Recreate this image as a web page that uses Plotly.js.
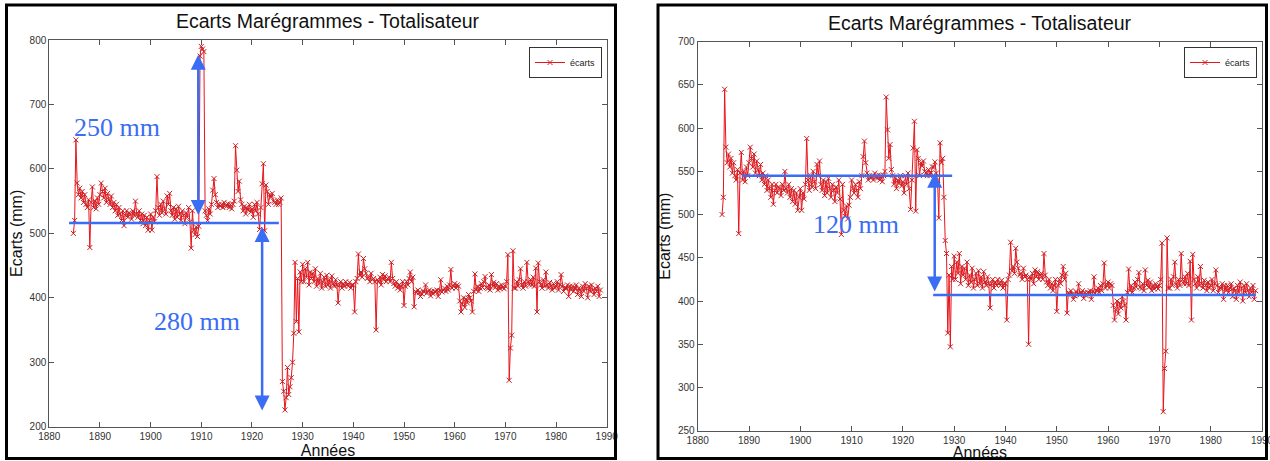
<!DOCTYPE html>
<html>
<head>
<meta charset="utf-8">
<script src="https://cdn.plot.ly/plotly-3.0.1.min.js"></script>
<style>
  html, body { margin: 0; padding: 0; background: #ffffff; }
  #chart { width: 1270px; height: 461px; }
</style>
</head>
<body>
<div id="chart"></div>
<script>
// ---------------- DATA (quarterly readings, mm) ----------------
// corrected series (right panel); the left panel is the same series with two raw segments
const ecarts1880s = [          // starts 1884.75
  500,
  520, 645, 578, 560,   // 1885
  570, 555, 565, 548,   // 1886
  560, 545, 540, 552,   // 1887
  478, 548, 572, 540,   // 1888
  550, 538, 555, 545    // 1889
];
const ecarts1890s = [
  560, 578, 565, 555,
  570, 548, 562, 552,
  545, 558, 540, 548,
  535, 545, 528, 540,
  530, 520, 535, 512,
  528, 535, 525, 532,
  530, 522, 535, 528,
  550, 530, 525, 535,
  520, 530, 515, 528,
  512, 525, 505, 520
];
const ecarts1900s = [
  530, 505, 525, 518,
  535, 588, 540, 528,
  545, 532, 550, 538,
  530, 558, 545, 562,
  535, 528, 540, 522,
  538, 525, 542, 530,
  520, 535, 528, 515,
  532, 525, 540, 518,
  477, 535, 505, 498,
  510, 495, 511, 520
];
const ecarts1910s = [
  540, 530, 525, 535,
  528, 520, 538, 530,
  545, 567, 585, 560,
  548, 540, 545, 542,
  545, 540, 548, 543,
  542, 546, 540, 545,
  538, 545, 550, 636,
  598, 565, 581, 552,
  545, 535, 542, 530,
  540, 536, 545, 533
];
const ecarts1920s = [
  538, 525, 545, 535,
  548, 530, 506, 540,
  577, 608, 504, 575,
  565, 545, 560, 556,
  562, 550, 548, 545,
  552, 545, 548, 555,
  555, 561, 548, 540,
  496, 583, 560, 565,
  520, 470, 455, 363,
  430, 347, 440, 425
];
const ecarts1930s = [
  452, 425, 445, 432,
  455, 420, 440, 430,
  438, 425, 445, 418,
  430, 422, 438, 415,
  425, 432, 418, 435,
  420, 428, 415, 434,
  422, 418, 428, 420,
  392, 420, 425, 415,
  422, 418, 425, 420,
  418, 424, 415, 420
];
const ecarts1940s = [
  420, 378, 425, 430,
  468, 435, 440, 432,
  461, 445, 438, 430,
  432, 425, 438, 428,
  430, 425, 350, 428,
  425, 432, 420, 436,
  428, 434, 425, 430,
  432, 425, 455, 430,
  422, 418, 425, 415,
  420, 412, 418, 425
];
const ecarts1950s = [
  388, 418, 425, 420,
  430, 440, 425, 432,
  386, 410, 408, 412,
  408, 402, 406, 411,
  409, 420, 407, 410,
  412, 403, 410, 406,
  410, 409, 412, 402,
  411, 428, 409, 412,
  415, 410, 418, 412,
  420, 444, 415, 418
];
const ecarts1960s = [
  422, 415, 420, 418,
  395, 378, 390, 400,
  385, 398, 392, 405,
  400, 395, 378, 410,
  437, 412, 418, 410,
  415, 422, 416, 425,
  433, 416, 414, 420,
  412, 436, 418, 424,
  416, 422, 412, 418,
  414, 420, 416, 414
];
const ecarts1970s = [
  418, 425, 467, 272,
  322, 342, 473, 415,
  415, 425, 418, 428,
  445, 420, 415, 425,
  418, 455, 425, 420,
  428, 420, 432, 418,
  446, 378, 454, 425,
  420, 415, 428, 418,
  440, 420, 415, 424,
  418, 412, 422, 415
];
const ecarts1980s = [
  418, 425, 412, 420,
  436, 418, 410, 415,
  415, 420, 402, 418,
  412, 418, 410, 415,
  420, 405, 415, 412,
  402, 418, 410, 422,
  415, 400, 418, 410,
  420, 412, 405, 415,
  410, 418, 402, 412
];
// raw (uncorrected) segments shown only in the left panel
const spike1910Left = [775, 790, 786, 782];                          // from 1909.75
const dip1926Left  = [270, 255, 226, 245, 292, 250, 262, 276, 300, 345]; // from 1926.0

// blue annotation values
const leftRefLevel = 516;
const leftUpArrow = [526, 777];     // at 1909.4
const leftDownArrow = [512, 225];   // at 1922.0
const rightLevelBefore = 545;
const rightLevelAfter = 407;
const rightArrow = [550, 411];      // at 1926.2
const labelsLeft = ['250 mm', '280 mm'];
const labelRight = '120 mm';

// ---------------- BUILD ----------------
const blocks = [
  [1884.75, ecarts1880s], [1890, ecarts1890s], [1900, ecarts1900s], [1910, ecarts1910s],
  [1920, ecarts1920s], [1930, ecarts1930s], [1940, ecarts1940s], [1950, ecarts1950s],
  [1960, ecarts1960s], [1970, ecarts1970s], [1980, ecarts1980s]
];
const years = [], corrected = [];
blocks.forEach(([start, vals]) => vals.forEach((v, i) => { years.push(start + i * 0.25); corrected.push(v); }));
const raw = corrected.slice();
function overrideFrom(arr, startYear, vals) {
  const i0 = years.indexOf(startYear);
  vals.forEach((v, k) => { arr[i0 + k] = v; });
}
overrideFrom(raw, 1909.75, spike1910Left);
overrideFrom(raw, 1926, dip1926Left);

const W = 1270, H = 461;
const px = v => v / W;
const py = v => 1 - v / H;
const SANS = 'Liberation Sans, Arial, Helvetica, sans-serif';
const SERIF = 'Liberation Serif, Times New Roman, serif';
const BLUE = '#3a6cf4';
const AX = '#555555';

const lineStyle = { color: '#e8141b', width: 1 };
const markerStyle = { symbol: 'x-thin', size: 5, color: '#c82024', line: { color: '#c82024', width: 1 } };

const traces = [
  { x: years, y: raw, type: 'scatter', mode: 'lines+markers', name: 'écarts',
    xaxis: 'x', yaxis: 'y', legend: 'legend', line: lineStyle, marker: markerStyle },
  { x: years, y: corrected, type: 'scatter', mode: 'lines+markers', name: 'écarts',
    xaxis: 'x2', yaxis: 'y2', legend: 'legend2', line: lineStyle, marker: markerStyle }
];

const axisCommon = {
  showline: true, mirror: 'allticks', linecolor: AX, linewidth: 1,
  ticks: 'inside', ticklen: 5, tickwidth: 1, tickcolor: AX,
  showgrid: false, zeroline: false, fixedrange: true, ticklabeloverflow: 'allow',
  tickfont: { family: SANS, size: 10, color: '#333' }
};
const xTitle = { text: 'Années', font: { family: SANS, size: 16, color: '#111' }, standoff: 4 };
const yTitle = { text: 'Ecarts (mm)', font: { family: SANS, size: 16, color: '#111' }, standoff: 3 };

const legendCommon = {
  xanchor: 'right', yanchor: 'top', bgcolor: '#ffffff', bordercolor: '#333', borderwidth: 1,
  font: { family: SANS, size: 9, color: '#222' }, itemwidth: 30, tracegroupgap: 0
};

function dblArrow(xa, ya, xVal, from, to) {
  return { xref: xa, yref: ya, axref: xa, ayref: ya, x: xVal, y: to, ax: xVal, ay: from,
    text: '', showarrow: true, arrowside: 'end+start', arrowhead: 2, startarrowhead: 2,
    arrowsize: 1.2, startarrowsize: 1.2, arrowwidth: 2.5, arrowcolor: BLUE, standoff: 0, startstandoff: 0 };
}
function hLine(xa, ya, x0, x1, yv) {
  return { type: 'line', xref: xa, yref: ya, x0: x0, x1: x1, y0: yv, y1: yv,
    line: { color: BLUE, width: 2.5 }, layer: 'above' };
}
function frame(x0, x1, y0, y1) {
  return { type: 'rect', xref: 'paper', yref: 'paper', x0: px(x0), x1: px(x1), y0: py(y1), y1: py(y0),
    line: { color: '#000', width: 3 }, layer: 'above' };
}
function blueText(xa, ya, xVal, yVal, txt) {
  return { xref: xa, yref: ya, x: xVal, y: yVal, text: txt, showarrow: false,
    xanchor: 'left', yanchor: 'middle', font: { family: SERIF, size: 26, color: BLUE } };
}
function panelTitle(xc, yc) {
  return { xref: 'paper', yref: 'paper', x: px(xc), y: py(yc), xanchor: 'center', yanchor: 'middle',
    text: 'Ecarts Marégrammes - Totalisateur', showarrow: false,
    font: { family: SANS, size: 19.5, color: '#111' } };
}

const layout = {
  width: W, height: H, margin: { l: 0, r: 0, t: 0, b: 0 },
  paper_bgcolor: '#ffffff', plot_bgcolor: '#ffffff', showlegend: true, hovermode: false,
  xaxis: Object.assign({}, axisCommon, { domain: [px(49.3), px(606.7)], range: [1880, 1990], dtick: 10, tick0: 1880, anchor: 'y', title: xTitle }),
  yaxis: Object.assign({}, axisCommon, { domain: [py(426.7), py(40)], range: [200, 800], dtick: 100, tick0: 200, anchor: 'x', title: yTitle }),
  xaxis2: Object.assign({}, axisCommon, { domain: [px(697.7), px(1262)], range: [1880, 1990], dtick: 10, tick0: 1880, anchor: 'y2', title: xTitle }),
  yaxis2: Object.assign({}, axisCommon, { domain: [py(430.7), py(41.7)], range: [250, 700], dtick: 50, tick0: 250, anchor: 'x2', title: yTitle }),
  legend: Object.assign({}, legendCommon, { x: px(602), y: py(47) }),
  legend2: Object.assign({}, legendCommon, { x: px(1257), y: py(47) }),
  shapes: [
    frame(6.5, 615.5, 5, 458.5),
    frame(658, 1266.5, 5, 458.5),
    hLine('x', 'y', 1883.9, 1925.3, leftRefLevel),
    hLine('x2', 'y2', 1888.6, 1929.6, rightLevelBefore),
    hLine('x2', 'y2', 1925.9, 1988.8, rightLevelAfter)
  ],
  annotations: [
    panelTitle(328, 21),
    panelTitle(980, 23),
    dblArrow('x', 'y', 1909.4, leftUpArrow[0], leftUpArrow[1]),
    dblArrow('x', 'y', 1922.0, leftDownArrow[0], leftDownArrow[1]),
    dblArrow('x2', 'y2', 1926.2, rightArrow[0], rightArrow[1]),
    blueText('x', 'y', 1884.4, 664, labelsLeft[0]),
    blueText('x', 'y', 1900.2, 364, labelsLeft[1]),
    blueText('x2', 'y2', 1902.0, 489, labelRight)
  ]
};

Plotly.newPlot('chart', traces, layout, { staticPlot: true, displayModeBar: false });
</script>
</body>
</html>
